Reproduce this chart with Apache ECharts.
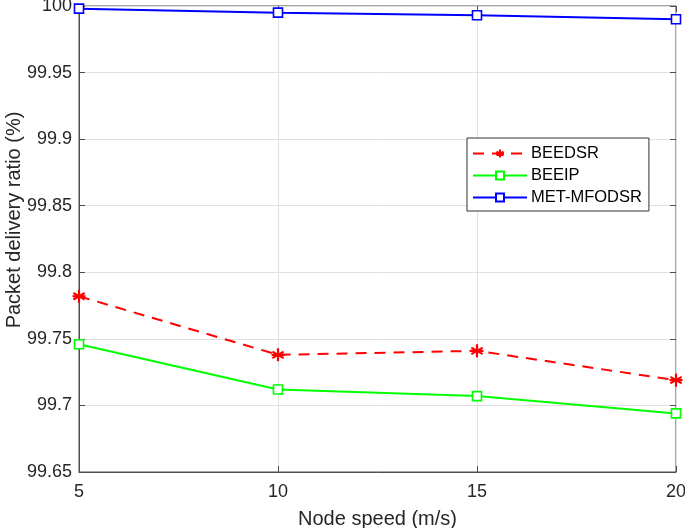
<!DOCTYPE html>
<html><head><meta charset="utf-8">
<script src="https://cdn.jsdelivr.net/npm/echarts@6/dist/echarts.min.js"></script>
<style>html,body{margin:0;padding:0;background:#fff}#c{width:685px;height:528px}</style>
</head><body><div id="c"></div>
<script>
const speeds = [5, 10, 15, 20];
const beedsr = [99.782, 99.738, 99.741, 99.719];
const beeip = [99.746, 99.712, 99.707, 99.694];
const metmfodsr = [99.998, 99.995, 99.993, 99.990];
const seriesNames = ['BEEDSR', 'BEEIP', 'MET-MFODSR'];

const asterisk = 'path://M0,-10L0,10M-8.66,-5L8.66,5M-8.66,5L8.66,-5M-10,0L10,0';
const font = 'Liberation Sans, Arial, Helvetica, sans-serif';
const chart = echarts.init(document.getElementById('c'));
const pairs = a => speeds.map((s, i) => [s, a[i]]);
chart.setOption({
  animation: false,
  grid: { left: 79, right: 9, top: 6, bottom: 56, show: true, borderColor: '#4d4d4d', borderWidth: 1,
          containLabel: false, outerBoundsMode: 'none' },
  legend: {
    data: seriesNames, orient: 'vertical', left: 467, top: 138,
    itemWidth: 54, itemHeight: 10, itemGap: 5,
    padding: [7, 7, 5, 5],
    borderColor: '#333', borderWidth: 1, backgroundColor: '#fff',
    textStyle: { fontFamily: font, fontSize: 16.5, color: '#000', padding: [0, 0, 0, -1] }
  },
  xAxis: [{
    type: 'value', min: 5, max: 20, interval: 5,
    name: 'Node speed (m/s)', nameLocation: 'middle', nameGap: 37, nameMoveOverlap: false,
    nameTextStyle: { fontFamily: font, fontSize: 20, color: '#262626' },
    axisLine: { lineStyle: { color: '#4d4d4d' } },
    axisTick: { inside: true, length: 6, lineStyle: { color: '#4d4d4d' } },
    axisLabel: { fontFamily: font, fontSize: 18, color: '#262626', margin: 11 },
    splitLine: { show: true, lineStyle: { color: '#e0e0e0' } }
  }, {
    type: 'value', min: 5, max: 20, interval: 5, position: 'top',
    axisLine: { show: false }, axisLabel: { show: false }, splitLine: { show: false },
    axisTick: { inside: true, length: 6, lineStyle: { color: '#4d4d4d' } }
  }],
  yAxis: [{
    type: 'value', min: 99.65, max: 100, interval: 0.05,
    name: 'Packet delivery ratio (%)', nameLocation: 'middle', nameGap: 55, nameMoveOverlap: false,
    nameTextStyle: { fontFamily: font, fontSize: 20, color: '#262626', padding: [0, 0, 0, 38] },
    axisLine: { show: true, lineStyle: { color: '#4d4d4d' } },
    axisTick: { show: true, inside: true, length: 6, lineStyle: { color: '#4d4d4d' } },
    axisLabel: { fontFamily: font, fontSize: 18, color: '#262626', margin: 7,
      formatter: v => String(parseFloat(v.toFixed(2))) },
    splitLine: { show: true, lineStyle: { color: '#e0e0e0' } }
  }, {
    type: 'value', min: 99.65, max: 100, interval: 0.05, position: 'right',
    axisLine: { show: false }, axisLabel: { show: false }, splitLine: { show: false },
    axisTick: { show: true, inside: true, length: 6, lineStyle: { color: '#4d4d4d' } }
  }],
  series: [{
    name: seriesNames[0], type: 'line', data: pairs(beedsr),
    symbol: asterisk, symbolSize: 13, showAllSymbol: true,
    lineStyle: { color: '#ff0000', width: 2, type: [11, 8] },
    itemStyle: { color: '#ff0000', borderColor: '#ff0000', borderWidth: 2.2 }
  }, {
    name: seriesNames[1], type: 'line', data: pairs(beeip),
    symbol: 'rect', symbolSize: 9,
    lineStyle: { color: '#00ff00', width: 2 },
    itemStyle: { color: '#ffffff', borderColor: '#00ff00', borderWidth: 1.6 }
  }, {
    name: seriesNames[2], type: 'line', data: pairs(metmfodsr),
    symbol: 'rect', symbolSize: 9,
    lineStyle: { color: '#0000ff', width: 2 },
    itemStyle: { color: '#ffffff', borderColor: '#0000ff', borderWidth: 1.6 }
  }]
});
</script></body></html>
